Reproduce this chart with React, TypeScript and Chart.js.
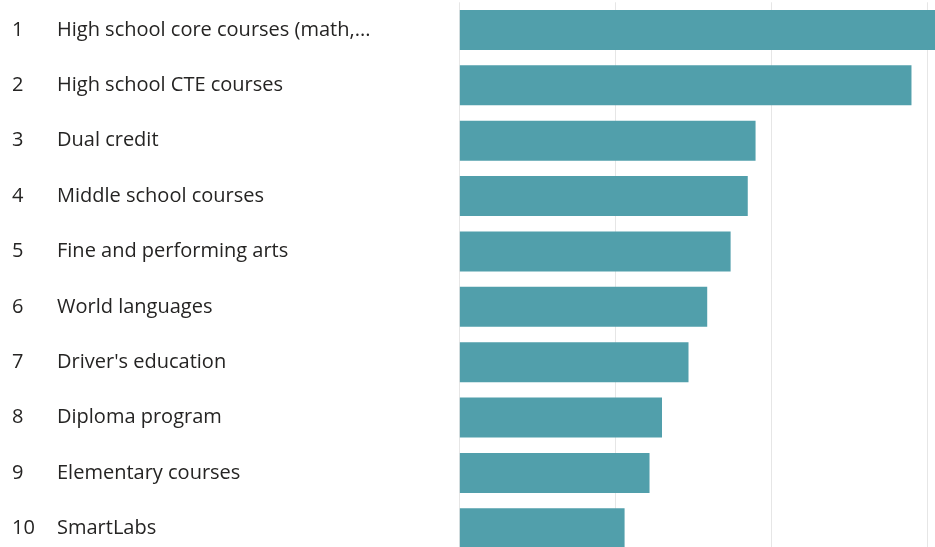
import React, { useEffect, useRef } from "react";
import { Chart, registerables } from "chart.js";

Chart.register(...registerables);

const ranks = ["1", "2", "3", "4", "5", "6", "7", "8", "9", "10"];
const categories = [
  "High school core courses (math,...",
  "High school CTE courses",
  "Dual credit",
  "Middle school courses",
  "Fine and performing arts",
  "World languages",
  "Driver's education",
  "Diploma program",
  "Elementary courses",
  "SmartLabs",
];
const values = [320, 290, 190, 185, 174, 159, 147, 130, 122, 106];
const xTicks = [0, 100, 200, 300, 400];

const FONT = "'Open Sans', 'Noto Sans', sans-serif";
const TEXT = "#252423";
const BAR = "rgb(81,159,171)";

export default function App() {
  const ref = useRef<HTMLCanvasElement | null>(null);
  useEffect(() => {
    document.body.style.margin = "0";
    document.body.style.overflow = "hidden";
    const c = ref.current!;
    const zeroPad = (s: any) => {
      s.paddingTop = 0;
      s.paddingBottom = 0;
    };
    const chart = new Chart(c, {
      type: "bar",
      data: {
        labels: categories,
        datasets: [
          {
            data: values,
            backgroundColor: BAR,
            borderWidth: 0,
            barPercentage: 0.723,
            categoryPercentage: 1,
          },
        ],
      },
      options: {
        indexAxis: "y",
        responsive: false,
        animation: false,
        events: [],
        layout: { padding: { left: 12, top: 2.3, right: 0, bottom: 0 } },
        plugins: { legend: { display: false }, tooltip: { enabled: false } },
        scales: {
          x: {
            type: "linear",
            min: xTicks[0],
            max: xTicks[xTicks.length - 1],
            afterBuildTicks: (s: any) => {
              s.ticks = xTicks.map((v) => ({ value: v }));
            },
            ticks: { display: false },
            grid: { color: "#e6e6e6", lineWidth: 1, drawTicks: false },
            border: { display: false },
            afterFit: (s: any) => {
              s.height = 0;
              s.paddingLeft = 0;
              s.paddingRight = 0;
            },
          },
          y: {
            type: "category",
            position: "left",
            weight: 0,
            offset: true,
            grid: { display: false, drawTicks: false },
            border: { display: false },
            ticks: {
              crossAlign: "far",
              padding: 0,
              color: TEXT,
              font: { family: FONT, size: 20 },
            },
            afterFit: (s: any) => {
              s.width = 402.3;
              zeroPad(s);
            },
          },
          yRank: {
            type: "category",
            position: "left",
            weight: 1,
            offset: true,
            labels: ranks,
            grid: { display: false, drawTicks: false },
            border: { display: false },
            ticks: {
              crossAlign: "far",
              padding: 0,
              color: TEXT,
              font: { family: FONT, size: 20 },
            },
            afterFit: (s: any) => {
              s.width = 45;
              zeroPad(s);
            },
          },
        },
      },
    });
    return () => chart.destroy();
  }, []);
  return (
    <div
      style={{
        position: "fixed",
        left: 0,
        top: 0,
        width: 935,
        height: 547,
        overflow: "hidden",
        background: "#fff",
      }}
    >
      <canvas ref={ref} width={1083} height={556} style={{ display: "block" }} />
    </div>
  );
}
